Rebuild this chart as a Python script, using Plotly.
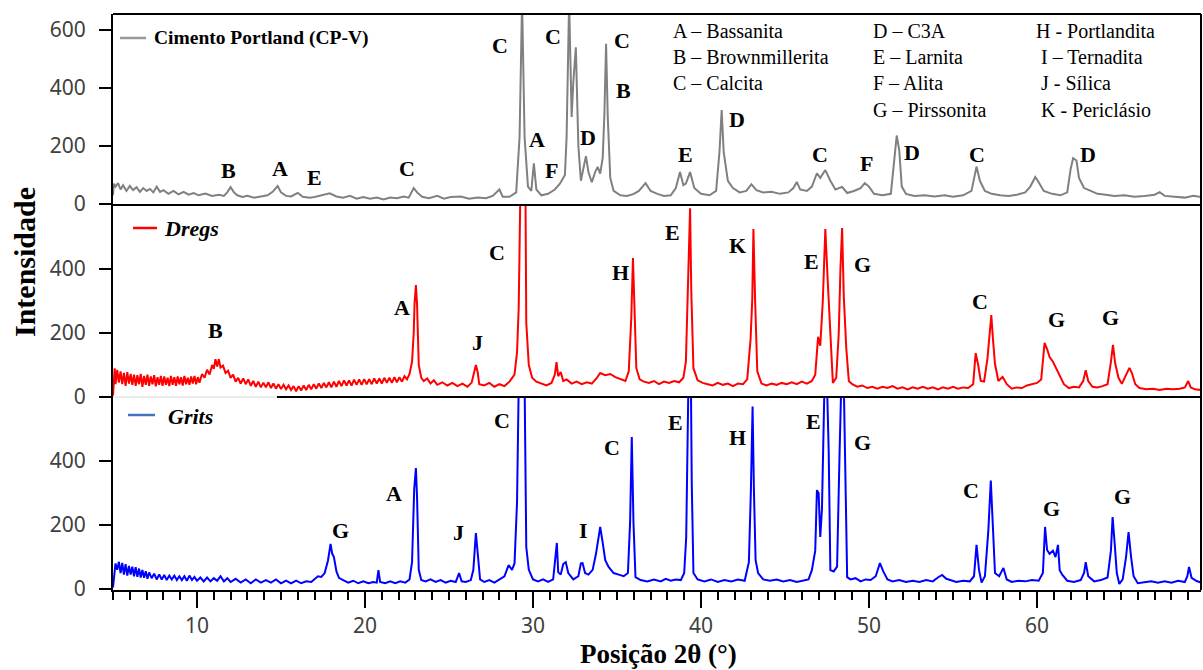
import plotly.graph_objects as go

# ---------------- data (2theta, intensity) ----------------
cpv = [(5.0,30),(5.05,70),(5.15,60),(5.3,72),(5.45,50),(5.6,65),(5.8,45),(6.0,62),(6.2,48),(6.4,58),
       (6.6,42),(6.8,55),(7.0,45),(7.2,52),(7.4,40),(7.6,60),(7.8,42),(8.0,48),(8.3,35),(8.6,45),
       (8.9,33),(9.2,42),(9.5,32),(9.8,38),(10.1,30),(10.5,36),(10.9,28),(11.3,32),(11.6,28),(11.8,40),
       (12.0,58),(12.2,40),(12.4,30),(12.7,24),(13.0,28),(13.4,22),(13.8,26),(14.2,30),(14.5,42),(14.8,62),
       (15.0,40),(15.3,28),(15.6,26),(16.0,38),(16.3,25),(16.7,22),(17.0,24),(17.5,30),(17.9,37),(18.3,26),
       (18.7,22),(19.1,28),(19.5,18),(19.9,24),(20.3,18),(20.7,22),(21.1,16),(21.5,22),(21.9,20),(22.3,26),
       (22.6,22),(22.9,55),(23.1,40),(23.4,25),(23.8,20),(24.3,28),(24.7,18),(25.1,24),(25.7,26),(26.2,18),
       (26.7,22),(27.2,20),(27.6,28),(28.0,50),(28.2,25),(28.6,25),(29.0,40),(29.2,230),(29.35,700),(29.5,230),
       (29.7,60),(29.9,45),(30.05,140),(30.2,50),(30.5,30),(30.9,35),(31.3,50),(31.6,70),(31.9,100),(32.0,230),
       (32.15,700),(32.3,300),(32.4,420),(32.55,540),(32.7,200),(32.85,80),(33.0,120),(33.15,165),(33.3,110),(33.5,75),
       (33.7,110),(33.85,128),(34.0,105),(34.15,160),(34.25,310),(34.35,552),(34.45,300),(34.6,90),(34.8,45),(35.2,30),
       (35.6,28),(36.0,35),(36.3,45),(36.7,72),(37.0,45),(37.4,35),(37.8,28),(38.2,30),(38.5,55),(38.75,110),
       (38.95,65),(39.1,70),(39.35,110),(39.6,55),(40.0,35),(40.5,30),(40.9,45),(41.1,180),(41.23,324),(41.35,180),
       (41.6,80),(41.9,55),(42.3,40),(42.7,45),(43.0,68),(43.3,48),(43.7,40),(44.2,42),(44.7,35),(45.2,40),
       (45.5,55),(45.7,76),(45.9,50),(46.3,45),(46.6,60),(46.9,106),(47.1,90),(47.4,117),(47.7,80),(48.0,50),
       (48.4,59),(48.7,38),(49.1,45),(49.5,55),(49.75,72),(50.0,60),(50.3,35),(50.8,30),(51.3,35),(51.5,150),
       (51.65,236),(51.8,186),(51.95,60),(52.2,35),(52.7,28),(53.3,30),(53.9,26),(54.5,30),(55.0,25),(55.6,30),
       (56.1,45),(56.4,129),(56.6,80),(56.9,45),(57.3,35),(57.8,30),(58.3,28),(58.8,32),(59.3,40),(59.6,60),
       (59.9,93),(60.1,75),(60.4,45),(60.9,35),(61.4,30),(61.8,40),(62.0,120),(62.15,158),(62.35,150),(62.5,90),
       (62.8,55),(63.2,45),(63.6,35),(64.1,32),(64.6,28),(65.2,30),(65.8,25),(66.4,28),(67.0,32),(67.3,41),
       (67.6,28),(68.2,25),(68.8,22),(69.3,28),(69.76,24)]

dregs = [(5.0,5),(5.05,60),(5.1,90),(5.15,40),(5.25,85),(5.35,45),(5.45,80),(5.55,40),(5.65,75),(5.75,35),
         (5.85,78),(5.95,42),(6.05,72),(6.15,38),(6.25,70),(6.35,35),(6.45,68),(6.55,40),(6.65,72),(6.75,32),
         (6.85,66),(6.95,38),(7.05,70),(7.15,35),(7.25,64),(7.35,40),(7.45,68),(7.55,33),(7.65,62),(7.75,38),
         (7.85,66),(7.95,35),(8.05,64),(8.15,38),(8.25,60),(8.35,34),(8.45,66),(8.55,38),(8.65,62),(8.75,35),
         (8.85,64),(8.95,40),(9.05,62),(9.15,36),(9.25,66),(9.35,40),(9.45,60),(9.55,38),(9.65,64),(9.75,42),
         (9.85,66),(9.95,40),(10.05,62),(10.15,45),(10.3,72),(10.45,60),(10.6,85),(10.75,70),(10.9,100),(11.0,88),
         (11.1,118),(11.2,95),(11.3,118),(11.4,92),(11.55,98),(11.7,75),(11.85,82),(12.0,60),(12.15,70),(12.3,48),
         (12.45,60),(12.6,42),(12.75,58),(12.9,40),(13.05,55),(13.2,35),(13.35,50),(13.5,32),(13.65,48),(13.8,30),
         (13.95,45),(14.1,30),(14.25,46),(14.4,28),(14.55,42),(14.7,26),(14.85,40),(15.0,25),(15.15,38),(15.3,24),
         (15.45,36),(15.6,22),(15.75,34),(15.9,18),(16.05,34),(16.2,20),(16.35,36),(16.5,22),(16.65,38),(16.8,24),
         (16.95,40),(17.1,26),(17.25,42),(17.4,28),(17.55,44),(17.7,30),(17.85,46),(18.0,30),(18.15,48),(18.3,32),
         (18.45,50),(18.6,34),(18.75,52),(18.9,36),(19.05,52),(19.2,36),(19.35,54),(19.5,38),(19.65,55),(19.8,38),
         (19.95,56),(20.1,40),(20.25,56),(20.4,40),(20.55,58),(20.7,42),(20.85,58),(21.0,42),(21.15,60),(21.3,44),
         (21.45,60),(21.6,44),(21.75,62),(21.9,46),(22.05,62),(22.2,48),(22.35,65),(22.5,55),(22.65,72),(22.8,110),
         (22.9,200),(22.95,293),(23.03,350),(23.1,287),(23.2,100),(23.35,60),(23.5,50),(23.7,58),(23.9,42),(24.1,52),
         (24.3,38),(24.6,46),(24.9,36),(25.2,44),(25.5,34),(25.8,42),(26.1,32),(26.35,45),(26.5,85),(26.6,100),
         (26.7,80),(26.8,40),(27.1,36),(27.4,44),(27.7,32),(28.0,40),(28.3,34),(28.6,48),(28.9,70),(29.05,140),
         (29.15,281),(29.25,650),(29.55,650),(29.6,231),(29.75,100),(29.95,60),(30.2,48),(30.5,42),(30.8,36),(31.1,44),
         (31.3,70),(31.4,109),(31.5,65),(31.65,78),(31.8,50),(32.0,55),(32.3,42),(32.6,48),(32.9,40),(33.2,46),
         (33.5,42),(33.8,60),(34.0,75),(34.3,68),(34.6,72),(34.9,62),(35.2,56),(35.5,50),(35.7,80),(35.85,247),
         (35.95,434),(36.05,247),(36.15,90),(36.35,55),(36.6,48),(36.9,44),(37.2,50),(37.5,40),(37.8,48),(38.1,44),
         (38.4,50),(38.7,46),(38.95,60),(39.1,110),(39.22,334),(39.3,490),(39.35,590),(39.42,334),(39.55,90),(39.8,52),
         (40.1,44),(40.4,40),(40.7,36),(41.0,44),(41.3,38),(41.6,42),(41.9,34),(42.2,42),(42.5,40),(42.75,55),
         (42.95,180),(43.05,303),(43.12,525),(43.22,303),(43.35,80),(43.6,42),(43.9,36),(44.2,42),(44.5,38),(44.8,44),
         (45.1,40),(45.4,46),(45.7,40),(46.0,48),(46.3,42),(46.6,50),(46.8,70),(46.97,188),(47.1,160),(47.25,300),
         (47.4,525),(47.55,356),(47.7,200),(47.85,44),(48.05,60),(48.2,200),(48.3,400),(48.4,528),(48.5,313),(48.65,150),
         (48.8,50),(49.0,40),(49.3,32),(49.6,36),(49.9,28),(50.2,32),(50.5,26),(50.8,32),(51.1,28),(51.4,34),
         (51.7,26),(52.0,30),(52.3,24),(52.6,30),(52.9,26),(53.2,32),(53.5,26),(53.8,30),(54.1,24),(54.4,30),
         (54.7,26),(55.0,32),(55.3,26),(55.6,30),(55.9,28),(56.2,40),(56.35,137),(56.5,100),(56.65,50),(56.85,48),
         (57.05,120),(57.2,200),(57.28,256),(57.38,180),(57.5,103),(57.7,50),(57.95,63),(58.2,40),(58.5,26),(58.8,30),
         (59.1,28),(59.4,36),(59.7,40),(60.0,44),(60.25,55),(60.45,169),(60.6,150),(60.75,125),(60.95,110),(61.2,84),
         (61.4,60),(61.6,40),(61.9,28),(62.2,32),(62.5,30),(62.75,50),(62.9,84),(63.05,50),(63.3,32),(63.6,30),
         (63.9,34),(64.2,40),(64.4,110),(64.52,163),(64.65,106),(64.85,60),(65.05,41),(65.3,70),(65.5,91),(65.65,75),
         (65.85,40),(66.1,28),(66.5,24),(66.9,26),(67.3,22),(67.7,26),(68.1,24),(68.5,26),(68.8,30),(69.0,50),
         (69.15,30),(69.4,24),(69.76,22)]

grits = [(5.0,5),(5.05,40),(5.15,80),(5.25,60),(5.35,85),(5.45,50),(5.55,82),(5.65,45),(5.75,78),(5.85,42),
         (5.95,72),(6.05,45),(6.15,70),(6.25,40),(6.35,68),(6.45,38),(6.55,64),(6.65,36),(6.75,60),(6.85,35),
         (6.95,56),(7.05,32),(7.15,52),(7.3,34),(7.45,48),(7.6,30),(7.75,46),(7.9,30),(8.05,44),(8.2,28),
         (8.35,42),(8.5,30),(8.65,42),(8.8,28),(8.95,40),(9.1,28),(9.25,40),(9.4,26),(9.55,42),(9.7,28),
         (9.85,38),(10.0,26),(10.2,36),(10.4,24),(10.6,36),(10.8,24),(11.0,34),(11.2,26),(11.4,40),(11.6,24),
         (11.8,34),(12.0,22),(12.3,32),(12.6,20),(12.9,30),(13.2,18),(13.5,30),(13.8,20),(14.1,28),(14.4,20),
         (14.7,30),(15.0,18),(15.3,26),(15.6,18),(15.9,26),(16.2,18),(16.5,24),(16.8,22),(17.0,32),(17.2,40),
         (17.4,38),(17.6,50),(17.8,90),(17.95,141),(18.05,110),(18.15,100),(18.3,55),(18.45,35),(18.7,28),(19.0,20),
         (19.3,26),(19.6,18),(19.9,24),(20.2,18),(20.5,22),(20.7,20),(20.8,59),(20.9,22),(21.2,18),(21.5,24),
         (21.8,18),(22.1,24),(22.4,20),(22.65,30),(22.8,84),(22.93,313),(23.03,378),(23.1,284),(23.2,60),(23.35,28),
         (23.6,24),(23.9,30),(24.2,22),(24.5,28),(24.8,20),(25.1,26),(25.4,22),(25.6,50),(25.75,24),(26.0,22),
         (26.3,28),(26.45,60),(26.6,175),(26.72,91),(26.85,30),(27.1,22),(27.4,28),(27.7,20),(28.0,30),(28.3,40),
         (28.55,75),(28.75,60),(28.9,80),(29.05,272),(29.15,640),(29.5,640),(29.6,131),(29.75,60),(30.0,30),(30.3,24),
         (30.6,30),(30.9,22),(31.2,30),(31.32,100),(31.42,144),(31.5,53),(31.65,45),(31.8,78),(31.95,84),(32.1,50),
         (32.4,30),(32.7,40),(32.85,80),(32.95,81),(33.1,50),(33.3,45),(33.55,60),(33.75,110),(33.9,170),(34.0,194),
         (34.15,144),(34.3,90),(34.5,69),(34.8,50),(35.1,45),(35.4,40),(35.65,50),(35.78,209),(35.88,475),(35.98,209),
         (36.1,37),(36.4,28),(36.8,24),(37.2,30),(37.6,24),(37.9,32),(38.2,26),(38.5,30),(38.8,28),(39.0,50),
         (39.12,163),(39.25,640),(39.4,640),(39.45,331),(39.55,50),(39.8,30),(40.2,24),(40.6,30),(41.0,22),(41.4,28),
         (41.8,24),(42.2,30),(42.6,26),(42.85,84),(42.97,309),(43.07,570),(43.15,309),(43.25,90),(43.4,50),(43.7,30),
         (44.1,26),(44.5,30),(44.9,24),(45.3,28),(45.7,22),(46.1,26),(46.4,30),(46.6,59),(46.8,120),(46.9,309),
         (47.0,300),(47.1,163),(47.2,250),(47.35,640),(47.5,640),(47.6,434),(47.7,59),(47.9,55),(48.1,70),(48.25,430),
         (48.35,640),(48.5,640),(48.58,381),(48.7,37),(48.9,30),(49.2,34),(49.5,24),(49.8,30),(50.1,28),(50.4,40),
         (50.65,81),(50.85,55),(51.1,30),(51.4,24),(51.8,28),(52.2,22),(52.6,26),(53.0,22),(53.4,28),(53.8,24),
         (54.1,36),(54.35,44),(54.6,32),(54.9,28),(55.2,22),(55.6,26),(56.0,24),(56.25,40),(56.4,138),(56.55,59),
         (56.7,20),(56.9,40),(57.1,180),(57.25,339),(57.38,175),(57.5,50),(57.75,40),(58.0,66),(58.2,30),(58.5,22),
         (58.9,26),(59.3,24),(59.7,28),(60.1,26),(60.35,50),(60.48,194),(60.6,122),(60.75,110),(60.95,120),(61.1,100),
         (61.25,138),(61.35,59),(61.5,45),(61.8,26),(62.2,22),(62.6,28),(62.8,50),(62.9,84),(63.05,40),(63.4,24),
         (63.8,28),(64.2,36),(64.4,120),(64.5,225),(64.62,144),(64.75,50),(64.9,16),(65.1,30),(65.3,100),(65.45,178),
         (65.6,100),(65.75,40),(66.0,18),(66.4,20),(66.8,24),(67.2,20),(67.6,24),(68.0,20),(68.4,26),(68.8,22),
         (68.95,40),(69.05,69),(69.2,35),(69.5,25),(69.76,20)]

# peak labels (letter, 2theta, intensity)
labels_cpv = [("B",11.85,117),("A",14.94,124),("E",17.02,93),("C",22.5,124),("C",28.04,548),
              ("A",30.24,221),("F",31.13,117),("C",31.19,576),("D",33.27,228),("C",35.3,565),
              ("B",35.36,393),("E",39.05,169),("D",42.14,290),("C",47.08,169),("F",49.88,141),
              ("D",52.56,179),("C",56.43,169),("D",63.04,169)]
labels_dregs = [("B",11.13,209),("A",22.2,281),("J",26.67,169),("C",27.86,453),("H",35.18,388),
                ("E",38.33,513),("K",42.2,475),("E",46.6,422),("G",49.64,413),("C",56.6,297),
                ("G",61.19,241),("G",64.35,247)]
labels_grits = [("G",18.57,184),("A",21.73,300),("J",25.54,178),("C",28.15,528),("I",32.98,184),
                ("C",34.7,441),("E",38.51,519),("H",42.2,475),("E",46.67,522),("G",49.64,459),
                ("C",56.07,309),("G",60.89,253),("G",65.06,288)]

phase_col1 = ["A – Bassanita", "B – Brownmillerita", "C – Calcita"]
phase_col2 = ["D – C3A", "E – Larnita", "F – Alita", "G – Pirssonita"]
phase_col3 = ["H - Portlandita", " I – Ternadita", " J - Sílica", " K - Periclásio"]

series_names = ["Cimento Portland (CP-V)", "Dregs", "Grits"]
x_ticks = [10, 20, 30, 40, 50, 60]
y_ticks_top = [0, 200, 400, 600]
y_ticks_low = [0, 200, 400]

# ---------------- figure ----------------
W, H = 1203, 670
PAGE_L, PAGE_T, PAGE_B, PAGE_R = 113, 14, 590, 1201
L, T = PAGE_L, PAGE_T
B = H - PAGE_B
R = W - PAGE_R
PW, PH = W - L - R, H - T - B


def px2paper_x(px):
    return (px - PAGE_L) / PW


def py2paper_y(py):
    return (PAGE_B - py) / PH


d1 = (PAGE_B - 397) / PH   # bottom / middle boundary
d2 = (PAGE_B - 205) / PH   # middle / top boundary

SERIF = "Liberation Serif, Times New Roman, serif"
SANS = "Noto Sans, Open Sans, sans-serif"

fig = go.Figure()
fig.add_trace(go.Scatter(x=[p[0] for p in grits], y=[p[1] for p in grits], mode="lines",
                         line=dict(color="#0000FF", width=2), xaxis="x", yaxis="y",
                         name=series_names[2], showlegend=False))
fig.add_trace(go.Scatter(x=[p[0] for p in dregs], y=[p[1] for p in dregs], mode="lines",
                         line=dict(color="#FF0000", width=2), xaxis="x2", yaxis="y2",
                         name=series_names[1], showlegend=False))
fig.add_trace(go.Scatter(x=[p[0] for p in cpv], y=[p[1] for p in cpv], mode="lines",
                         line=dict(color="#808080", width=2), xaxis="x3", yaxis="y3",
                         name=series_names[0], showlegend=False))

xr = [5, 5 + PW / 16.8]
tickfont = dict(family=SANS, size=21, color="#404040")
yax_common = dict(showline=True, linecolor="black", linewidth=2, ticks="outside", ticklen=12,
                  tickwidth=2, tickcolor="black", tickfont=tickfont, showgrid=False, zeroline=False,
                  ticklabelstandoff=9)

fig.update_layout(
    width=W, height=H, margin=dict(l=L, r=R, t=T, b=B),
    paper_bgcolor="white", plot_bgcolor="white",
    xaxis=dict(domain=[0, 1], anchor="y", range=xr, tickvals=x_ticks, showline=True,
               linecolor="black", linewidth=2, ticks="outside", ticklen=16, tickwidth=2,
               tickcolor="black", tickfont=tickfont, showgrid=False, zeroline=False,
               minor=dict(dtick=1, tick0=0, ticks="outside", ticklen=8, tickwidth=2, tickcolor="black")),
    xaxis2=dict(domain=[0, 1], anchor="y2", range=xr, matches="x", visible=False),
    xaxis3=dict(domain=[0, 1], anchor="y3", range=xr, matches="x", visible=False),
    yaxis=dict(domain=[0, d1], range=[-3, 600], tickvals=y_ticks_low, **yax_common),
    yaxis2=dict(domain=[d1, d2], range=[0, 600], tickvals=y_ticks_low, **yax_common),
    yaxis3=dict(domain=[d2, 1], range=[-3.45, 655], tickvals=y_ticks_top, **yax_common),
)

shapes = []
line_k = dict(color="black", width=2)
shapes.append(dict(type="line", xref="paper", yref="paper", x0=0, x1=1, y0=1, y1=1, line=line_k))
shapes.append(dict(type="line", xref="paper", yref="paper", x0=1, x1=1, y0=0, y1=1, line=line_k))
shapes.append(dict(type="line", xref="paper", yref="paper", x0=0, x1=1, y0=d2, y1=d2, line=line_k))
shapes.append(dict(type="line", xref="paper", yref="paper", x0=px2paper_x(277), x1=1, y0=d1, y1=d1, line=line_k))
shapes.append(dict(type="line", xref="paper", yref="paper", x0=0, x1=px2paper_x(277), y0=d1, y1=d1,
                   line=dict(color="#d8d8d8", width=1)))
# legend sample lines
for (x0, x1, yy, col) in [(120, 146, 38, "#999999"), (133, 157, 228, "#FF0000"), (128, 155, 415, "#4472C4")]:
    shapes.append(dict(type="line", xref="paper", yref="paper", x0=px2paper_x(x0), x1=px2paper_x(x1),
                       y0=py2paper_y(yy), y1=py2paper_y(yy), line=dict(color=col, width=2.5)))
fig.update_layout(shapes=shapes)

ann = []
lab_font = dict(family=SERIF, size=22, color="black")
for lst, xa, ya in [(labels_cpv, "x3", "y3"), (labels_dregs, "x2", "y2"), (labels_grits, "x", "y")]:
    for t, xv, yv in lst:
        ann.append(dict(text="<b>%s</b>" % t, x=xv, y=yv, xref=xa, yref=ya, showarrow=False, font=lab_font))

# legends
ann.append(dict(text="<b>%s</b>" % series_names[0], x=px2paper_x(152), y=py2paper_y(38), xref="paper",
                yref="paper", xanchor="left", yanchor="middle", showarrow=False,
                font=dict(family=SERIF, size=19.5, color="black")))
ann.append(dict(text="<b><i>%s</i></b>" % series_names[1], x=px2paper_x(162), y=py2paper_y(229), xref="paper",
                yref="paper", xanchor="left", yanchor="middle", showarrow=False,
                font=dict(family=SERIF, size=22, color="black")))
ann.append(dict(text="<b><i>%s</i></b>" % series_names[2], x=px2paper_x(166), y=py2paper_y(416), xref="paper",
                yref="paper", xanchor="left", yanchor="middle", showarrow=False,
                font=dict(family=SERIF, size=22, color="black")))

# phase key
rows = [31, 57, 83, 110]
ph_font = dict(family=SERIF, size=20, color="black")
for col, xpx in [(phase_col1, 671), (phase_col2, 871), (phase_col3, 1034)]:
    for i, t in enumerate(col):
        ann.append(dict(text=t, x=px2paper_x(xpx), y=py2paper_y(rows[i]), xref="paper", yref="paper",
                        xanchor="left", yanchor="middle", showarrow=False, font=ph_font))

# axis titles
ann.append(dict(text="<b>Intensidade</b>", x=px2paper_x(24), y=py2paper_y(262), xref="paper", yref="paper",
                textangle=-90, showarrow=False, xanchor="center", yanchor="middle",
                font=dict(family=SERIF, size=30, color="black")))
ann.append(dict(text="<b>Posição 2θ (°)</b>", x=px2paper_x(658), y=py2paper_y(654), xref="paper", yref="paper",
                showarrow=False, xanchor="center", yanchor="middle",
                font=dict(family=SERIF, size=27, color="black")))
fig.update_layout(annotations=ann)

# remove the default page margin so the figure fills the 1203x670 window exactly
fig.write_html("out.html", config={"displayModeBar": False},
               post_script="document.body.style.margin='0';document.body.style.overflow='hidden';")
